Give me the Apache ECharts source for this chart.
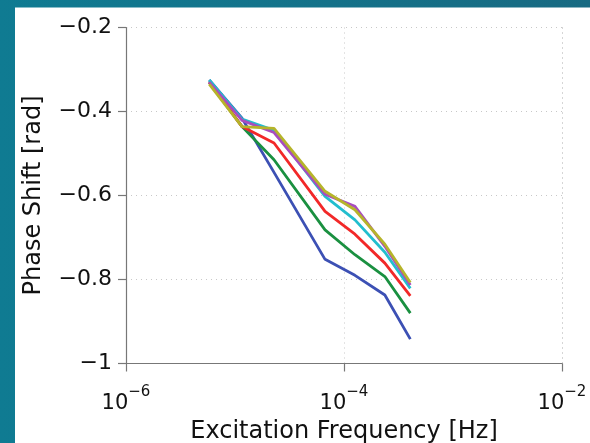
<!DOCTYPE html>
<html>
<head>
<meta charset="utf-8">
<script src="https://cdn.jsdelivr.net/npm/echarts@6/dist/echarts.min.js"></script>
<style>
html,body{margin:0;padding:0;width:590px;height:443px;overflow:hidden;}
#c{position:absolute;left:0;top:0;width:590px;height:443px;}
</style>
</head>
<body>
<div id="c"></div>
<script>
// Excitation frequencies [Hz]
const freqs = [5.8e-6, 1.16e-5, 2.28e-5, 6.7e-5, 1.26e-4, 2.37e-4, 4.06e-4];
// Phase shift [rad] per curve
const blueVals    = [-0.325, -0.416, -0.545, -0.752, -0.790, -0.837, -0.942];
const greenVals   = [-0.330, -0.436, -0.515, -0.682, -0.741, -0.793, -0.880];
const redVals     = [-0.330, -0.436, -0.475, -0.638, -0.692, -0.761, -0.839];
const cyanVals    = [-0.325, -0.418, -0.445, -0.602, -0.658, -0.735, -0.821];
const magentaVals = [-0.330, -0.421, -0.450, -0.597, -0.626, -0.721, -0.813];
const yellowVals  = [-0.335, -0.436, -0.440, -0.590, -0.634, -0.716, -0.807];
const seriesNames = ['blue', 'green', 'red', 'cyan', 'magenta', 'yellow'];
const seriesColors = ['#3c50b4', '#1a9040', '#f22828', '#22bece', '#a84cbe', '#b6b42a'];
const yTicks = [-1, -0.8, -0.6, -0.4, -0.2];
const xTickExps = [-6, -4, -2];
const xName = 'Excitation Frequency [Hz]';
const yName = 'Phase Shift [rad]';

const allVals = [blueVals, greenVals, redVals, cyanVals, magentaVals, yellowVals];
const FONT = 'DejaVu Sans';

const chart = echarts.init(document.getElementById('c'), null, {renderer: 'canvas'});
chart.setOption({
  animation: false,
  backgroundColor: new echarts.graphic.LinearGradient(0, 0, 1, 0, [
    {offset: 0, color: '#0f7b92'},
    {offset: 1, color: '#186a82'}
  ]),
  graphic: [{
    type: 'rect', z: -10, silent: true,
    shape: {x: 15, y: 7.5, width: 580, height: 440},
    style: {fill: '#ffffff'}
  }],
  grid: {left: 126, top: 27.5, right: 28, bottom: 79.5, containLabel: false, outerBoundsMode: 'none'},
  xAxis: {
    type: 'log', logBase: 10, min: 1e-6, max: 1e-2, interval: 2,
    name: xName, nameLocation: 'middle', nameGap: 55,
    nameTextStyle: {fontFamily: FONT, fontSize: 24, color: '#111'},
    axisLine: {show: true, onZero: false, lineStyle: {color: '#777', width: 1.2}},
    axisTick: {show: true, inside: false, length: 8, lineStyle: {color: '#777', width: 1.2}},
    splitLine: {show: true, lineStyle: {color: '#c8c8c8', type: [1, 4], width: 1}},
    axisLabel: {
      margin: 21,
      formatter: function (v) {
        const e = Math.round(Math.log10(v));
        return '{b|10}{s|' + (e < 0 ? '\u2212' : '') + Math.abs(e) + '}';
      },
      rich: {
        b: {fontFamily: FONT, fontSize: 21, color: '#111', verticalAlign: 'bottom', lineHeight: 30},
        s: {fontFamily: FONT, fontSize: 15, color: '#111', verticalAlign: 'top', lineHeight: 30}
      }
    }
  },
  yAxis: {
    type: 'value', min: -1, max: -0.2, interval: 0.2,
    name: yName, nameLocation: 'middle', nameGap: 80, nameRotate: 90,
    nameTextStyle: {fontFamily: FONT, fontSize: 24, color: '#111'},
    axisLine: {show: true, onZero: false, lineStyle: {color: '#777', width: 1.2}},
    axisTick: {show: true, inside: false, length: 8, lineStyle: {color: '#777', width: 1.2}},
    splitLine: {show: true, lineStyle: {color: '#c8c8c8', type: [1, 4], width: 1}},
    axisLabel: {
      margin: 14, fontFamily: FONT, fontSize: 22, color: '#111',
      formatter: function (v) {
        const r = Math.round(v * 10) / 10;
        if (r === -1) return '\u22121';
        return (r < 0 ? '\u2212' : '') + Math.abs(r).toFixed(1);
      }
    }
  },
  series: allVals.map(function (vals, i) {
    return {
      name: seriesNames[i], type: 'line', showSymbol: false, symbol: 'none',
      lineStyle: {color: seriesColors[i], width: 2.8},
      itemStyle: {color: seriesColors[i]},
      z: 2 + i,
      data: freqs.map(function (f, j) { return [f, vals[j]]; })
    };
  })
});
</script>
</body>
</html>
